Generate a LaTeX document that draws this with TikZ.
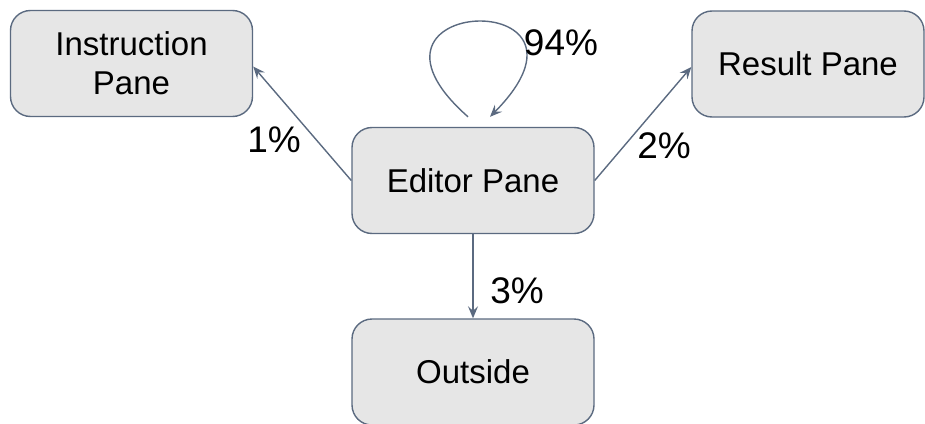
\documentclass[tikz,border=0pt]{standalone}
\usepackage{fontspec}
\setmainfont{Liberation Sans}
\usetikzlibrary{arrows.meta,calc}
\definecolor{edgegray}{HTML}{5B6A80}
\definecolor{boxfill}{HTML}{E6E6E6}
\tikzset{
  pane/.style={draw=edgegray, fill=boxfill, line width=1.4pt, rounded corners=20pt,
    minimum width=242pt, minimum height=106pt, align=center, inner sep=0pt,
    font=\fontsize{33}{39}\selectfont},
  flow/.style={draw=edgegray, line width=1.4pt,
    -{Stealth[length=12pt, width=10pt, inset=4.5pt]}},
  pct/.style={anchor=base, inner sep=0pt, font=\fontsize{37}{40}\selectfont}
}
\begin{document}
\begin{tikzpicture}[x=1pt, y=-1pt]
  \useasboundingbox (0,0) rectangle (925,423);
  \begin{scope}
    \clip (0,0) rectangle (925,423);
    \node[pane] (ins) at (131.5,63.5) {Instruction\\Pane};
    \node[pane] (edit) at (473,180.5) {Editor Pane};
    \node[pane, minimum width=232pt] (res) at (808,64) {Result Pane};
    \node[pane] (out) at (473,372) {Outside};
  \end{scope}

  % transitions out of the editor
  \draw[flow] (edit.west) -- ($(ins.east)+(0,3)$);
  \draw[flow] (edit.east) -- ($(res.west)+(0,3)$);
  \draw[flow] (edit.south) -- (out.north);

  % staying in the editor
  \coordinate (loopA) at ($(edit.north)+(-5,-10)$);
  \coordinate (loopB) at ($(edit.north)+(17,-10)$);
  \draw[flow] (loopA) .. controls (330,-5) and (620,-15) .. (loopB);

  \node[pct] (p1) at (274,152) {1\%};
  \node[pct] (p94) at (561,55) {94\%};
  \node[pct] (p2) at (664,158) {2\%};
  \node[pct] (p3) at (517,303) {3\%};
\end{tikzpicture}
\end{document}
